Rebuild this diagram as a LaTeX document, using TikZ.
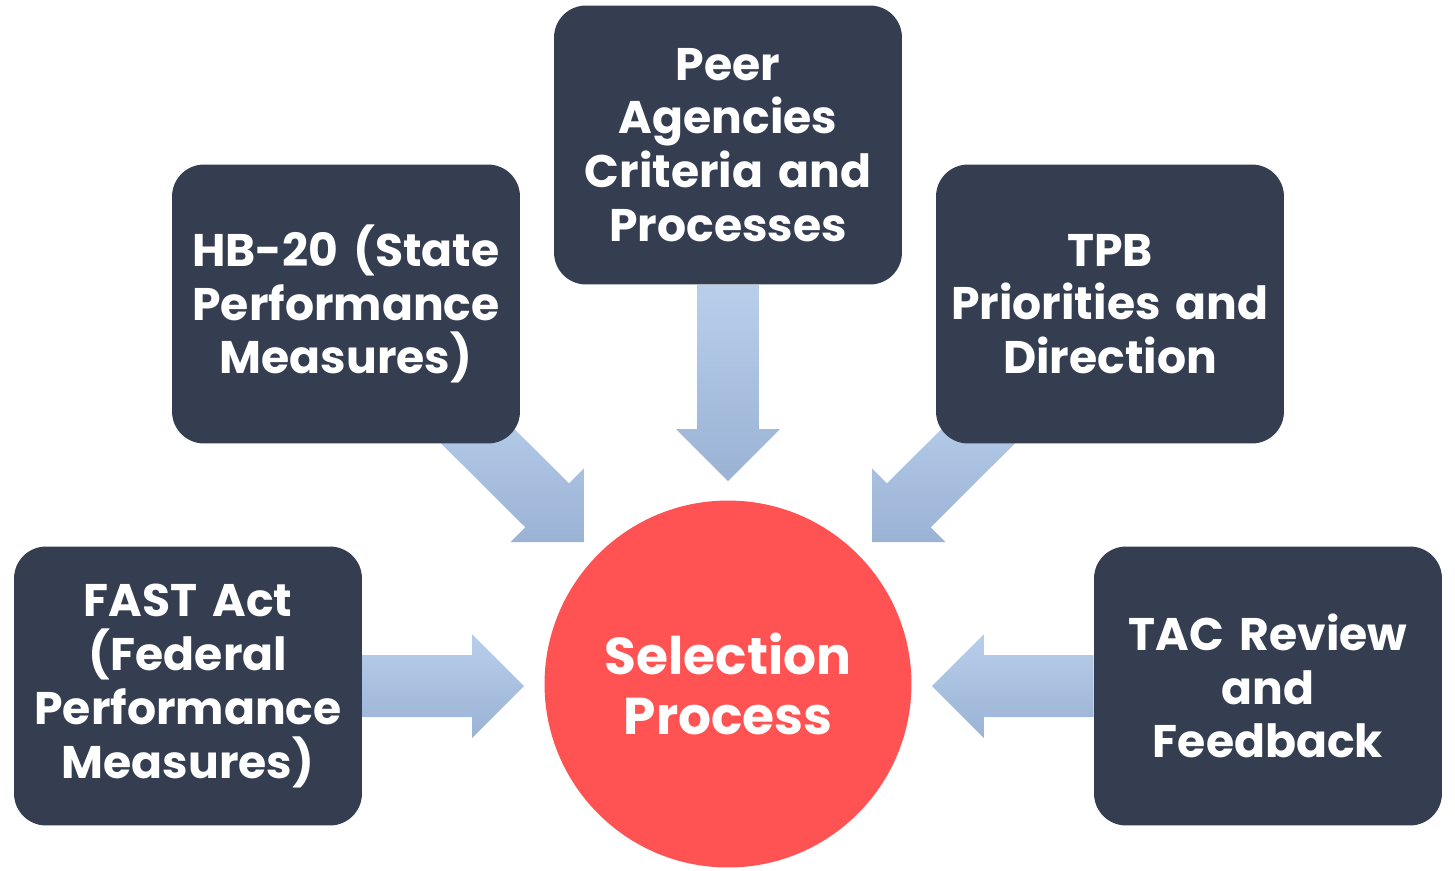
\documentclass[tikz,border=0pt]{standalone}
\usepackage{fontspec}
\setmainfont{Poppins}
\usetikzlibrary{calc}
\usetikzlibrary{positioning}
\usetikzlibrary{backgrounds}
\definecolor{boxnavy}{HTML}{343E50}
\definecolor{hubred}{HTML}{FF5252}
\definecolor{flowtop}{HTML}{B8CFEC}
\definecolor{flowbottom}{HTML}{9AB2D4}
\tikzset{
	source/.style={
		fill=boxnavy,
		rounded corners=0.64cm,
		minimum width=6.96cm,
		minimum height=5.58cm,
		text width=6.8cm,
		inner sep=0pt,
		align=center,
		text=white,
		font=\bfseries\fontsize{26}{30.6}\selectfont,
	},
	hub/.style={
		circle,
		fill=hubred,
		minimum size=7.34cm,
		inner sep=0pt,
		align=center,
		text=white,
		font=\bfseries\fontsize{29.5}{34.2}\selectfont,
	},
	flow/.style={
		top color=flowtop,
		bottom color=flowbottom,
	},
}
% block arrow from #1 to tip #2 (shaft 62px, head 104px wide, 52px long)
\newcommand{\blockarrow}[2]{%
	\coordinate (ab) at ($(#2)!1.04cm!(#1)$);
	\path[flow] ($(#1)!0.62cm!90:(#2)$) -- ($(ab)!0.62cm!-90:(#1)$)
		-- ($(ab)!1.04cm!-90:(#1)$) -- (#2) -- ($(ab)!1.04cm!90:(#1)$)
		-- ($(ab)!0.62cm!90:(#1)$) -- ($(#1)!0.62cm!-90:(#2)$) -- cycle;
}

\begin{document}
\begin{tikzpicture}[x=0.02cm,y=-0.02cm]
	\useasboundingbox (0,0) rectangle (1455,870);

	\node[hub]    (hub)  at (728,684) {Selection\\Process};

	\node[source] (fast) at (188,686) {FAST Act\\(Federal\\Performance\\Measures)};
	\node[source] (hb)   at (346,304) {HB-20 (State\\Performance\\Measures)};
	\node[source] (peer) at (728,145) {Peer\\Agencies\\Criteria and\\Processes};
	\node[source] (tpb)  at (1110,304) {TPB\\Priorities and\\Direction};
	\node[source] (tac)  at (1268,686) {TAC Review\\and\\Feedback};

	\coordinate (fasttip) at (524,686);
	\coordinate (hbtip)   at (584,542);
	\coordinate (peertip) at (728,481);
	\coordinate (tpbtip)  at (872,542);
	\coordinate (tactip)  at (932,686);

	\coordinate (hbfoot)  at ($(hb.south east)+(-60,-25)$);
	\coordinate (tpbfoot) at ($(tpb.south west)+(60,-25)$);

	\begin{scope}[on background layer]
		\blockarrow{fast.east}{fasttip}
		\blockarrow{hbfoot}{hbtip}
		\blockarrow{peer.south}{peertip}
		\blockarrow{tpbfoot}{tpbtip}
		\blockarrow{tac.west}{tactip}
	\end{scope}

\end{tikzpicture}
\end{document}
